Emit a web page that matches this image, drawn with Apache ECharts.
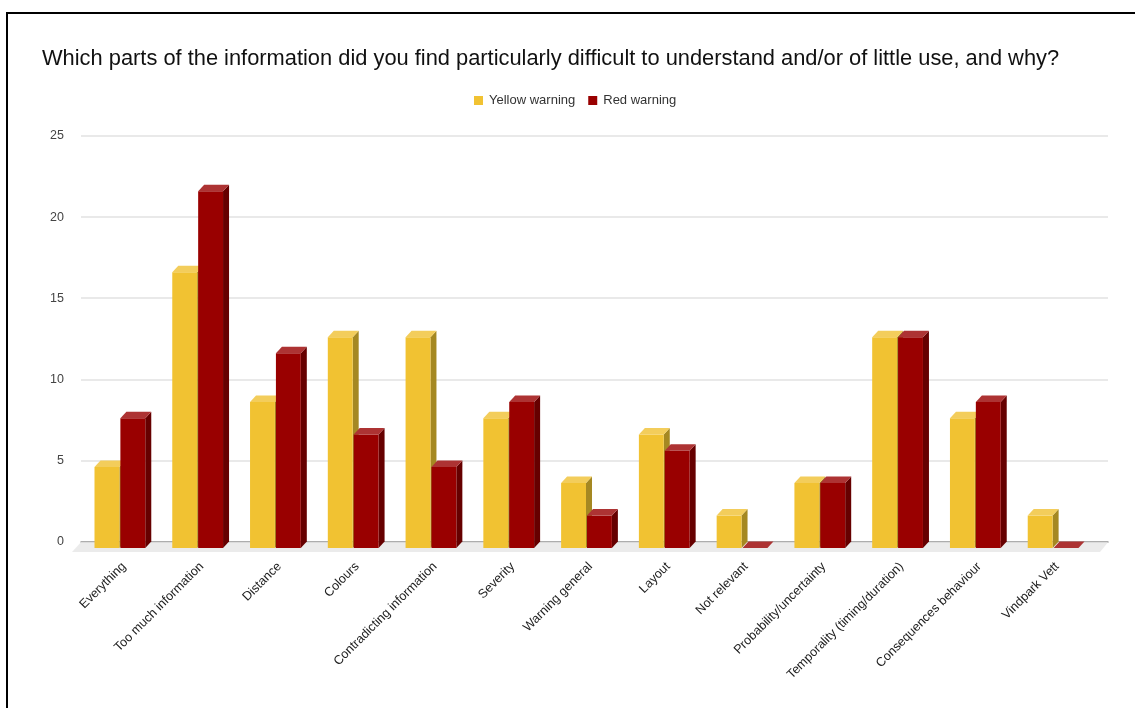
<!DOCTYPE html>
<html>
<head>
<meta charset="utf-8">
<style>html,body{margin:0;padding:0;background:#fff}#c{width:1135px;height:708px}</style>
<script src="https://cdn.jsdelivr.net/npm/echarts@6/dist/echarts.min.js"></script>
</head>
<body>
<div id="c"></div>
<script>
const titleText = 'Which parts of the information did you find particularly difficult to understand and/or of little use, and why?';
const categories = ['Everything','Too much information','Distance','Colours','Contradicting information','Severity','Warning general','Layout','Not relevant','Probability/uncertainty','Temporality (timing/duration)','Consequences behaviour','Vindpark Vett'];
const yellowWarning = [5,17,9,13,13,8,4,7,2,4,13,8,2];
const redWarning = [8,22,12,7,5,9,2,6,0,4,13,9,0];

const DX = 6, DY = 6.5, FRAC = 0.32, NUDGE = 4;

function bar3d(side, colors) {
  return function (params, api) {
    const i = api.value(0), v = api.value(1);
    const c = api.coord([i, v]);
    const b = api.coord([i, 0]);
    const w = api.size([1, 0])[0] * FRAC;
    const x0 = (side < 0 ? c[0] - w - 0.5 : c[0] + 0.5) - NUDGE;
    const x1 = x0 + w;
    const top = c[1] + DY, base = b[1] + DY;
    const children = [];
    if (v > 0) {
      children.push({type:'polygon',shape:{points:[[x1,top],[x1+DX,top-DY],[x1+DX,base-DY],[x1,base]]},style:{fill:colors.side}});
      children.push({type:'rect',shape:{x:x0,y:top,width:w,height:base-top},style:{fill:colors.front}});
    }
    children.push({type:'polygon',shape:{points:[[x0,top],[x1,top],[x1+DX,top-DY],[x0+DX,top-DY]]},style:{fill:colors.top}});
    return {type:'group',children};
  };
}

function floorItem(params, api) {
  const g = params.coordSys;
  const y = g.y + g.height;
  return {type:'polygon',shape:{points:[[g.x,y+0.7],[g.x+g.width,y+0.7],[g.x+g.width-8,y+10.5],[g.x-9,y+10.5]]},style:{fill:'#ebebeb'}};
}

const chart = echarts.init(document.getElementById('c'), null, {renderer:'canvas'});
chart.setOption({
  animation:false,
  backgroundColor:'#ffffff',
  title:{text:titleText,left:37,top:43,textStyle:{fontFamily:'Liberation Sans',fontSize:21.85,fontWeight:'normal',color:'#111'}},
  legend:{data:['Yellow warning','Red warning'],left:469,top:89,itemWidth:9,itemHeight:9,itemGap:13,icon:'rect',
    textStyle:{fontFamily:'Liberation Sans',fontSize:13,color:'#333',padding:[0,0,0,1]}},
  grid:[
    {left:81,top:136,width:1027,height:405.5},
    {left:85,top:136,width:1011,height:405.5}
  ],
  xAxis:[
    {gridIndex:0,type:'category',data:categories,axisTick:{show:false},axisLabel:{show:false},axisLine:{show:true,lineStyle:{color:'#999',width:1.5}}},
    {gridIndex:1,type:'category',data:categories,axisTick:{show:false},axisLine:{show:false},
      axisLabel:{interval:0,rotate:45,margin:23,fontFamily:'Liberation Sans',fontSize:12.6,color:'#222'}}
  ],
  yAxis:[
    {gridIndex:0,type:'value',min:0,max:25,interval:5,axisLine:{show:false},axisTick:{show:false},
      axisLabel:{margin:17,fontFamily:'Liberation Sans',fontSize:12.5,color:'#444'},
      splitLine:{lineStyle:{color:'#e2e2e2',width:1.5}}},
    {gridIndex:1,type:'value',min:0,max:25,interval:5,show:false,splitLine:{show:false}}
  ],
  series:[
    {type:'custom',name:'floor',xAxisIndex:0,yAxisIndex:0,z:1,silent:true,clip:false,renderItem:floorItem,data:[[0,0]]},
    {type:'custom',name:'Yellow warning',xAxisIndex:1,yAxisIndex:1,z:3,clip:false,
      itemStyle:{color:'#f1c232'},encode:{x:0,y:1},
      renderItem:bar3d(-1,{front:'#f1c232',top:'#f3cd5b',side:'#a58822'}),
      data:yellowWarning.map((v,i)=>[i,v])},
    {type:'custom',name:'Red warning',xAxisIndex:1,yAxisIndex:1,z:4,clip:false,
      itemStyle:{color:'#990000'},encode:{x:0,y:1},
      renderItem:bar3d(1,{front:'#990000',top:'#ad3333',side:'#660000'}),
      data:redWarning.map((v,i)=>[i,v])}
  ],
  graphic:[
    {type:'polyline',z:10,shape:{points:[[7,708],[7,13],[1135,13]]},style:{stroke:'#000',lineWidth:2,fill:null}}
  ]
});
</script>
</body>
</html>
